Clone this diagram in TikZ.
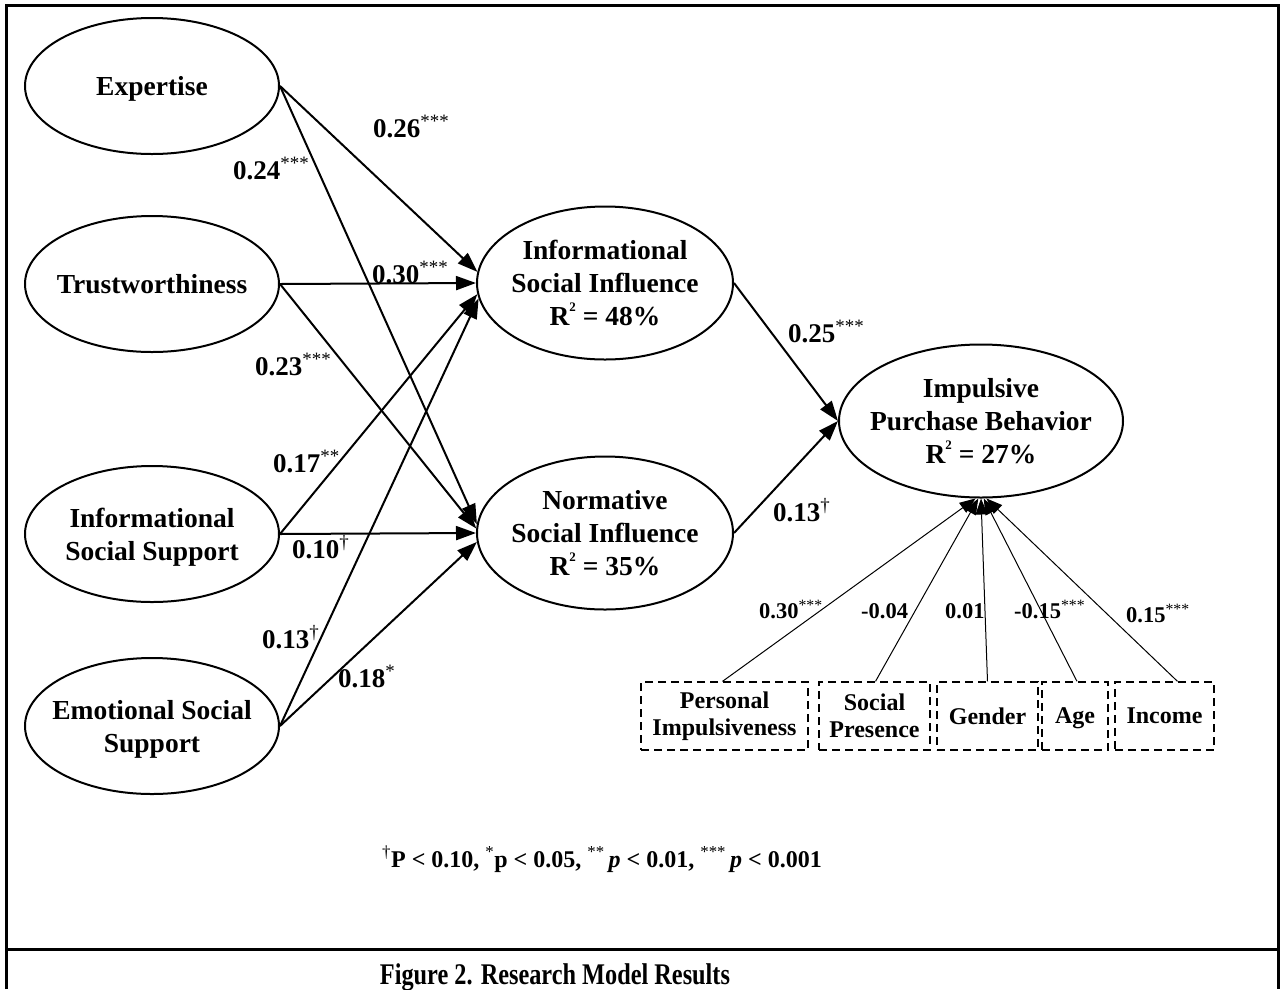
\documentclass[tikz,border=0pt]{standalone}
\usepackage{fontspec}
\setmainfont{Liberation Serif}
\usepackage{graphicx}
\usetikzlibrary{shapes.geometric,arrows.meta}
\newcommand{\sig}[1]{\textsuperscript{\normalfont #1}}
\newcommand{\ctext}[1]{\makebox[0pt][c]{\raisebox{-3pt}[\height][\depth]{\begin{tabular}{@{}c@{}}#1\end{tabular}}}}
\newcommand{\Rsq}{R\raisebox{0.5em}{\fontsize{13}{13}\selectfont 2}}
\begin{document}
\begin{tikzpicture}[x=1pt,y=-1pt,
  every node/.style={inner sep=0pt},
  latent/.style={ellipse, draw, line width=2pt, align=center, font=\fontsize{27.5}{33}\selectfont\bfseries},
  ctrl/.style={draw, dash pattern=on 8pt off 5pt, line width=1.3pt, minimum height=68pt, align=center, font=\fontsize{24}{27}\selectfont\bfseries},
  mainarrow/.style={line width=2pt, -{Triangle[length=20pt,width=14pt]}},
  ctrlarrow/.style={line width=1pt, -{Triangle[length=16pt,width=12pt]}},
  coef/.style={anchor=base west, font=\fontsize{27}{30}\selectfont\bfseries},
  ccoef/.style={anchor=base west, font=\fontsize{22.5}{24}\selectfont\bfseries},
  frameline/.style={line width=3pt}
]
\useasboundingbox (0,0) rectangle (1286,989);
\fill[white] (0,0) rectangle (1286,989);
% frame
\draw[frameline] (6.5,989) -- (6.5,5.5) -- (1278.5,5.5) -- (1278.5,989);
\draw[frameline] (6.5,949) -- (1278.5,949);

% latent variables
\node[latent, minimum width=254pt, minimum height=136pt] (exp) at (152,86) {\ctext{Expertise}};
\node[latent, minimum width=254pt, minimum height=136pt] (tru) at (152,284) {\ctext{Trustworthiness}};
\node[latent, minimum width=254pt, minimum height=136pt] (iss) at (152,534) {\ctext{Informational\\Social Support}};
\node[latent, minimum width=254pt, minimum height=136pt] (ess) at (152,726) {\ctext{Emotional Social\\Support}};
\node[latent, minimum width=256pt, minimum height=153pt] (isi) at (605,283) {\ctext{Informational\\Social Influence\\\Rsq{} = 48\%}};
\node[latent, minimum width=256pt, minimum height=153pt] (nsi) at (605,533) {\ctext{Normative\\Social Influence\\\Rsq{} = 35\%}};
\node[latent, minimum width=284pt, minimum height=153pt] (ipb) at (981,421) {\ctext{Impulsive\\Purchase Behavior\\\Rsq{} = 27\%}};

% control variables
\node[ctrl, minimum width=167pt] (pi) at (724.5,716) {Personal\\Impulsiveness};
\node[ctrl, minimum width=111pt] (sp) at (874.5,716) {Social\\Presence};
\node[ctrl, minimum width=101pt] (gen) at (987.5,716) {Gender};
\node[ctrl, minimum width=66pt] (age) at (1075,716) {\raisebox{-2pt}[\height][\depth]{Age}};
\node[ctrl, minimum width=99pt] (inc) at (1164.5,716) {Income};

% structural paths
\draw[mainarrow] (exp.east) -- (isi.175);
\draw[mainarrow] (exp.east) -- (nsi.176);
\draw[mainarrow] (tru.east) -- (isi.west);
\draw[mainarrow] (tru.east) -- (nsi.178);
\draw[mainarrow] (iss.east) -- (isi.185);
\draw[mainarrow] (iss.east) -- (nsi.west);
\draw[mainarrow] (ess.east) -- (isi.187);
\draw[mainarrow] (ess.east) -- (nsi.184);
\draw[mainarrow] (isi.east) -- (ipb.west);
\draw[mainarrow] (nsi.east) -- (ipb.west);

% control paths
\draw[ctrlarrow] ([xshift=-2pt]pi.north) -- (ipb.266);
\draw[ctrlarrow] ([xshift=1pt]sp.north) -- (ipb.268);
\draw[ctrlarrow] (gen.north) -- (ipb.270);
\draw[ctrlarrow] ([xshift=2pt]age.north) -- (ipb.272);
\draw[ctrlarrow] ([xshift=13pt]inc.north) -- (ipb.274);

% coefficients
\node[coef] (c1) at (373,137) {0.26\sig{***}};
\node[coef] (c2) at (233,179) {0.24\sig{***}};
\node[coef] (c3) at (372,283) {0.30\sig{***}};
\node[coef] (c4) at (255,375) {0.23\sig{***}};
\node[coef] (c5) at (273,472) {0.17\sig{**}};
\node[coef] (c6) at (292,558) {0.10\sig{\textdagger}};
\node[coef] (c7) at (262,648) {0.13\sig{\textdagger}};
\node[coef] (c8) at (338,687) {0.18\sig{*}};
\node[coef] (c9) at (788,342) {0.25\sig{***}};
\node[coef] (c10) at (773,521) {0.13\sig{\textdagger}};

\node[ccoef] (k1) at (759,618) {0.30\sig{***}};
\node[ccoef] (k2) at (861,618) {-0.04};
\node[ccoef] (k3) at (945,618) {0.01};
\node[ccoef] (k4) at (1014,618) {-0.15\sig{***}};
\node[ccoef] (k5) at (1126,622) {0.15\sig{***}};

% footnote and caption
\node[anchor=base, font=\fontsize{24}{28}\selectfont\bfseries] (fn) at (602,867) {\sig{\textdagger}P < 0.10, \sig{*}p < 0.05, \sig{**}\,\textit{p} < 0.01, \sig{***}\,\textit{p} < 0.001};
\node[anchor=base] (cap) at (555,984) {\scalebox{0.81}[1]{\fontsize{30}{30}\selectfont\bfseries Figure 2. Research Model Results}};
\end{tikzpicture}
\end{document}
